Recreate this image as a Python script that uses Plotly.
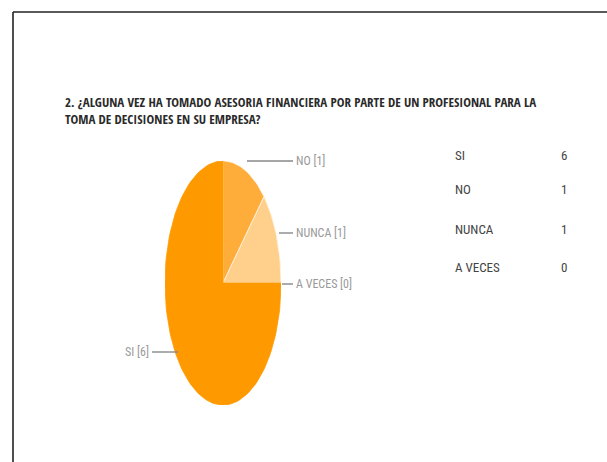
import math
import plotly.graph_objects as go

# Survey answers and counts
categories = ["SI", "NO", "NUNCA", "A VECES"]
counts = [6, 1, 1, 0]
slice_colors = ["#FF9900", "#FFAD3A", "#FFD08C", "#FFE4BF"]

title_text = ("2. ¿ALGUNA VEZ HA TOMADO ASESORIA FINANCIERA POR PARTE DE UN PROFESIONAL PARA LA<br>"
              "TOMA DE DECISIONES EN SU EMPRESA?")

W, H = 607, 462
TITLE_FONT = "Open Sans Condensed, Roboto Condensed, sans-serif"
FONT = "Roboto Condensed, sans-serif"

# pie box in pixels (left, right, top, bottom)
PX0, PX1, PY0, PY1 = 165, 281, 161, 405


def px(x):
    return x / W


def py(y):
    return 1 - y / H


fig = go.Figure()

# wedges run clockwise from 12 o'clock: NO, NUNCA, A VECES, then SI fills the rest
total = sum(counts)
order = [1, 2, 3, 0]
start = 0.0
for i in order:
    val = counts[i]
    sweep = 360.0 * val / total
    if val > 0:
        n = max(int(sweep / 2), 8)
        xs = [0.0]
        ys = [0.0]
        for k in range(n + 1):
            a = math.radians(start + sweep * k / n)
            xs.append(math.sin(a))
            ys.append(math.cos(a))
        xs.append(0.0)
        ys.append(0.0)
        fig.add_trace(go.Scatter(
            x=xs, y=ys, mode="lines", fill="toself",
            fillcolor=slice_colors[i],
            line=dict(color="#FFF3E0" if i != 0 else slice_colors[i], width=0.8),
            hoverinfo="text", text=f"{categories[i]}: {val}",
            showlegend=False,
        ))
    start += sweep

fig.update_layout(
    width=W, height=H,
    margin=dict(l=0, r=0, t=0, b=0),
    paper_bgcolor="white", plot_bgcolor="rgba(0,0,0,0)",
    showlegend=False,
    xaxis=dict(domain=[px(PX0), px(PX1)], range=[-1.0, 1.0], visible=False, fixedrange=True),
    yaxis=dict(domain=[py(PY1), py(PY0)], range=[-1.0, 1.0], visible=False, fixedrange=True),
)

# frame lines (top and left)
fig.add_shape(type="line", xref="paper", yref="paper", x0=px(13), x1=1.0, y0=py(12), y1=py(12),
              line=dict(color="#222222", width=1.6))
fig.add_shape(type="line", xref="paper", yref="paper", x0=px(13), x1=px(13), y0=py(12), y1=0.0,
              line=dict(color="#222222", width=1.6))

# title
fig.add_annotation(
    xref="paper", yref="paper", x=px(63), y=py(91), xanchor="left", yanchor="top",
    text=title_text, showarrow=False, align="left",
    font=dict(family=TITLE_FONT, size=13, color="#2a2a2a"),
)

# slice labels with leader lines
label_pos = {
    "NO": ((247, 161), (293, 161)),
    "NUNCA": ((279, 233), (293, 233)),
    "A VECES": ((282, 284), (293, 284)),
    "SI": ((178, 352), (152, 352)),
}
for cat, val in zip(categories, counts):
    (x0, y0), (x1, y1) = label_pos[cat]
    fig.add_shape(type="line", xref="paper", yref="paper",
                  x0=px(x0), y0=py(y0), x1=px(x1), y1=py(y1),
                  line=dict(color="#888888", width=1.4))
    right_side = x1 > x0
    fig.add_annotation(
        xref="paper", yref="paper", x=px(x1 + (1 if right_side else -1)), y=py(y1),
        xanchor="left" if right_side else "right", yanchor="middle",
        text=f"{cat} [{val}]", showarrow=False,
        font=dict(family=FONT, size=12, color="#9a9a9a"),
    )

# summary table
row_y = [155, 190, 229, 267]
for cat, val, yy in zip(categories, counts, row_y):
    fig.add_annotation(xref="paper", yref="paper", x=px(453), y=py(yy), xanchor="left", yanchor="middle",
                       text=cat, showarrow=False, font=dict(family=FONT, size=13, color="#444444"))
    fig.add_annotation(xref="paper", yref="paper", x=px(569), y=py(yy), xanchor="right", yanchor="middle",
                       text=str(val), showarrow=False, font=dict(family=FONT, size=13, color="#444444"))

fig.write_html("out.html")
